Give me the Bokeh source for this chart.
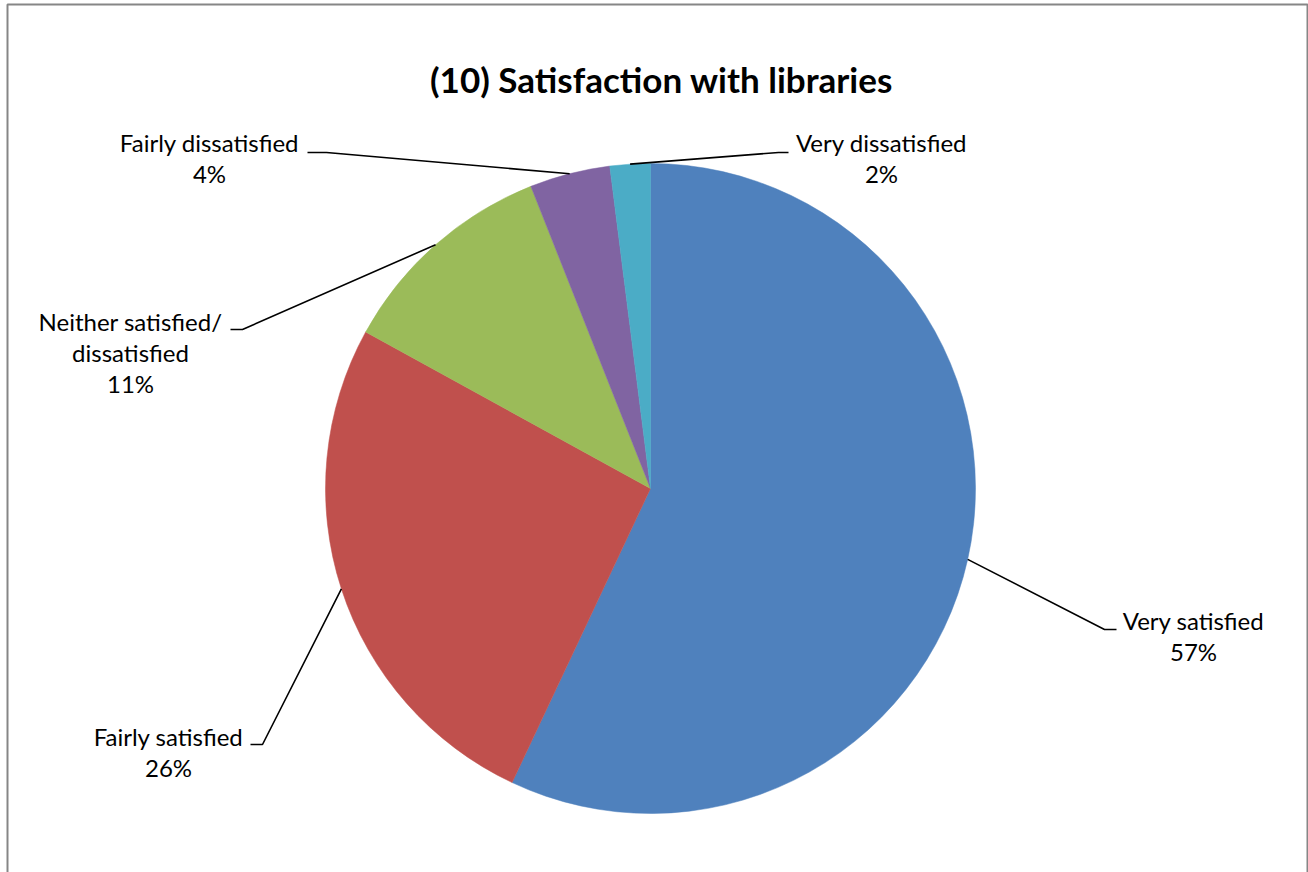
import math
from bokeh.plotting import figure
from bokeh.models import Range1d, ColumnDataSource
from bokeh.core.properties import value
from bokeh.embed import file_html
from bokeh.resources import INLINE

# ---- data ----
categories = ["Very satisfied", "Fairly satisfied", "Neither satisfied/\ndissatisfied",
              "Fairly dissatisfied", "Very dissatisfied"]
percentages = [57, 26, 11, 4, 2]
colors = ["#4F81BD", "#C0504D", "#9BBB59", "#8064A2", "#4BACC6"]
title_text = "(10) Satisfaction with libraries"

# ---- layout (pixels, y measured from top) ----
W, H = 1308, 872
CX, CY, R = 650, 488, 325
FONT = "Lato"
LABEL_SIZE = 24
LINE_GAP = 31
# label block centre x, first-line centre y
label_pos = [(1193, 620), (168, 736), (130, 321), (209, 142), (881, 142)]
# leader elbow and end points
elbows = [(1104, 629), (262, 744), (242, 329), (326, 152), (778, 152)]
ends = [(1116, 629), (250, 744), (230, 329), (307, 152), (788, 152)]


def fy(y):
    return H - y


p = figure(width=W, height=H, x_range=Range1d(0, W), y_range=Range1d(0, H),
           output_backend="svg", toolbar_location=None, min_border=0,
           outline_line_color=None)
p.axis.visible = False
p.xgrid.visible = False
p.ygrid.visible = False
p.background_fill_color = "white"
p.border_fill_color = "white"

# chart border
p.quad(left=[7], right=[1307], top=[fy(4)], bottom=[-20], fill_color=None,
       line_color="#868686", line_width=2)

# pie wedges, clockwise from 12 o'clock
total = float(sum(percentages))
starts, ends_a, mids = [], [], []
c = 0.0
for v in percentages:
    c0 = c / total
    c1 = (c + v) / total
    starts.append(math.pi / 2 - 2 * math.pi * c1)
    ends_a.append(math.pi / 2 - 2 * math.pi * c0)
    mids.append((c0 + c1) / 2)
    c += v

src = ColumnDataSource(dict(start=starts, end=ends_a, color=colors))
p.wedge(x=CX, y=fy(CY), radius=R, start_angle="start", end_angle="end",
        fill_color="color", line_color="color", line_width=0.5, source=src)

# leader lines
xs, ys = [], []
for m, (ex, ey), (tx, ty) in zip(mids, elbows, ends):
    a = 2 * math.pi * m
    sx = CX + R * math.sin(a)
    sy = CY - R * math.cos(a)
    xs.append([sx, ex, tx])
    ys.append([fy(sy), fy(ey), fy(ty)])
p.multi_line(xs=xs, ys=ys, line_color="black", line_width=1.6)

# labels
tx_, ty_, tt = [], [], []
for cat, pct, (lx, ly) in zip(categories, percentages, label_pos):
    lines = cat.split("\n") + [f"{pct}%"]
    for i, line in enumerate(lines):
        tx_.append(lx)
        ty_.append(fy(ly + i * LINE_GAP))
        tt.append(line)
p.text(x=tx_, y=ty_, text=tt, text_align="center", text_baseline="middle",
       text_font=value(FONT), text_font_size=f"{LABEL_SIZE}px", text_color="black")

# title
p.text(x=[661], y=[fy(78)], text=[title_text], text_align="center",
       text_baseline="middle", text_font=value(FONT), text_font_style="bold",
       text_font_size="35px", text_color="black")

open("out.html", "w").write(file_html(p, INLINE))
